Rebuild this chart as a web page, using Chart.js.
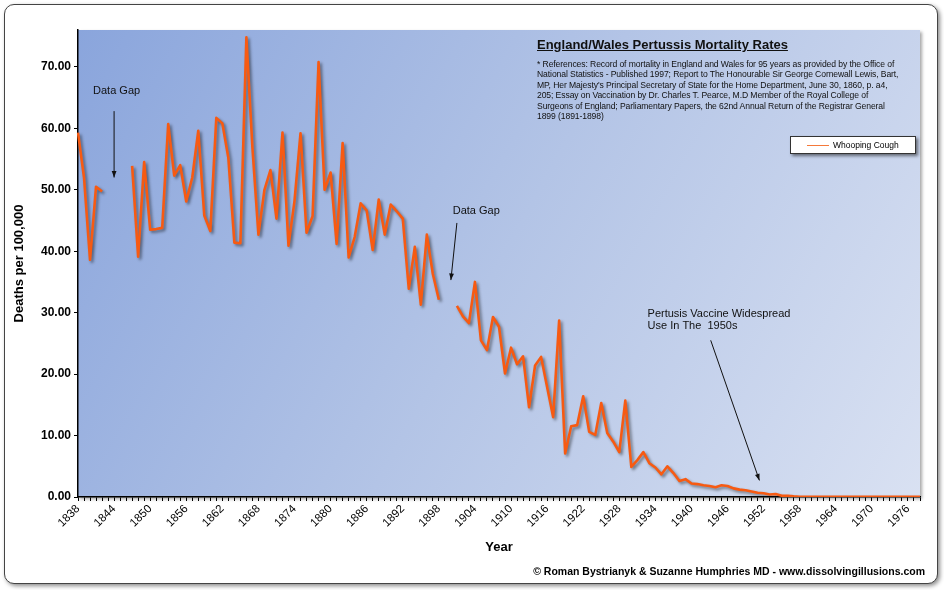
<!DOCTYPE html>
<html>
<head>
<meta charset="utf-8">
<script src="https://cdn.jsdelivr.net/npm/chart.js@4"></script>
<style>
  body { margin: 0; background: #fff; font-family: Arial, "Liberation Sans", sans-serif; }
  #wrap { position: relative; width: 944px; height: 590px; }
  #frame { position: absolute; left: 4px; top: 4px; width: 932px; height: 578px; border: 1px solid #444;
           border-radius: 10px; box-shadow: 2px 2px 4px rgba(0,0,0,0.45); background: #fff; }
  canvas { position: absolute; left: 0; top: 0; }
  .txt { position: absolute; color: #000; }
  #title { left: 537px; top: 37px; font-weight: bold; font-size: 13px; text-decoration: underline; color: #111; }
  #refs { left: 537px; top: 59px; width: 364px; font-size: 8.6px; line-height: 10.4px; color: #111; letter-spacing: -0.1px; }
  #legend { left: 790px; top: 136px; width: 124px; height: 16px; background: #fff; border: 1px solid #333;
            box-shadow: 2px 2px 3px rgba(0,0,0,0.5); font-size: 8.5px; line-height: 16px; }
  #legend span.sw { display: inline-block; width: 22px; height: 1px; background: #f5793a; vertical-align: middle; margin: 0 4px 0 16px; }
  #footer { right: 19px; top: 565px; font-weight: bold; font-size: 10.5px; }
</style>
</head>
<body>
<div id="wrap">
  <div id="frame"></div>
  <canvas id="chart" width="944" height="590"></canvas>
  <div class="txt" id="title">England/Wales Pertussis Mortality Rates</div>
  <div class="txt" id="refs">* References: Record of mortality in England and Wales for 95 years as provided by the Office of National Statistics - Published 1997; Report to The Honourable Sir George Cornewall Lewis, Bart, MP, Her Majesty's Principal Secretary of State for the Home Department, June 30, 1860, p. a4, 205; Essay on Vaccination by Dr. Charles T. Pearce, M.D Member of the Royal College of Surgeons of England; Parliamentary Papers, the 62nd Annual Return of the Registrar General 1899 (1891-1898)</div>
  <div class="txt" id="legend"><span class="sw"></span>Whooping Cough</div>
  <div class="txt" id="footer">© Roman Bystrianyk &amp; Suzanne Humphries MD - www.dissolvingillusions.com</div>
</div>
<script>
const firstYear = 1838;
const lastYear = 1978;
const years = [];
for (let y = firstYear; y <= lastYear; y++) years.push(String(y));

// deaths per 100,000, 1838-1898 (null = data gap)
const rates1838 = [59.3, 52.0, 38.6, 50.5, 49.7, null, null, null, null,
  53.9, 39.1, 54.5, 43.5, 43.6, 43.8, 60.7, 52.3, 54.0, 48.1, 52.0, 59.6,
  45.8, 43.3, 61.7, 60.8, 55.2, 41.4, 41.3, 74.8, 56.9, 42.7, 50.0, 53.2,
  45.3, 59.3, 40.9, 48.2, 59.2, 43.0, 45.7, 70.8, 50.0, 52.8, 41.2, 57.6,
  39.0, 42.3, 47.8, 46.6, 40.2, 48.4, 42.7, 47.6, 46.5, 45.3, 33.9, 40.7,
  31.3, 42.7, 36.3, 32.1];
// 1899-1900 missing
const rates1899 = [null, null];
// 1901-1978
const rates1901 = [31.1, 29.4, 28.3, 35.0, 25.5, 23.9, 29.3, 27.7, 20.1, 24.3,
  21.6, 22.9, 14.6, 21.4, 22.8, 17.9, 13.0, 28.7, 7.1, 11.5, 11.7, 16.4, 10.6,
  10.1, 15.3, 10.4, 9.0, 7.3, 15.7, 4.9, 6.0, 7.3, 5.5, 4.8, 3.7, 5.0, 3.9,
  2.6, 2.9, 2.2, 2.1, 1.9, 1.8, 1.6, 1.9, 1.8, 1.4, 1.2, 1.1, 0.9, 0.7, 0.6,
  0.4, 0.5, 0.2, 0.2, 0.1, 0.05, 0.04, 0.03, 0.03, 0.03, 0.02, 0.02, 0.02,
  0.02, 0.02, 0.02, 0.02, 0.02, 0.02, 0.02, 0.02, 0.02, 0.02, 0.02, 0.02, 0.02];
const rates = rates1838.concat(rates1899, rates1901);

const yTicks = [0, 10, 20, 30, 40, 50, 60, 70];
const yMax = 76;

const decor = {
  id: 'decor',
  beforeDraw(chart) {
    const { ctx, chartArea: a } = chart;
    const g = ctx.createLinearGradient(a.left, a.top, a.right, a.bottom);
    g.addColorStop(0, '#8aa5dc');
    g.addColorStop(0.5, '#b3c4e6');
    g.addColorStop(1, '#d9e1f2');
    ctx.save();
    ctx.shadowColor = 'rgba(0,0,0,0.35)';
    ctx.shadowBlur = 3;
    ctx.shadowOffsetX = 2;
    ctx.shadowOffsetY = 2;
    ctx.fillStyle = g;
    ctx.fillRect(a.left, a.top, a.right - a.left, a.bottom - a.top);
    ctx.restore();
  },
  beforeDatasetDraw(chart) {
    const ctx = chart.ctx;
    ctx.save();
    ctx.shadowColor = 'rgba(0,0,0,0.45)';
    ctx.shadowBlur = 3;
    ctx.shadowOffsetX = 2;
    ctx.shadowOffsetY = 2;
  },
  afterDatasetDraw(chart) { chart.ctx.restore(); },
  afterDraw(chart) {
    const { ctx, scales: { x, y } } = chart;
    const px = yr => x.getPixelForValue(yr - firstYear);
    function arrow(x1, y1, x2, y2) {
      ctx.beginPath(); ctx.moveTo(x1, y1); ctx.lineTo(x2, y2); ctx.stroke();
      const ang = Math.atan2(y2 - y1, x2 - x1);
      ctx.beginPath();
      ctx.moveTo(x2, y2);
      ctx.lineTo(x2 - 7 * Math.cos(ang - 0.35), y2 - 7 * Math.sin(ang - 0.35));
      ctx.lineTo(x2 - 7 * Math.cos(ang + 0.35), y2 - 7 * Math.sin(ang + 0.35));
      ctx.closePath(); ctx.fill();
    }
    ctx.save();
    ctx.strokeStyle = '#111'; ctx.fillStyle = '#111'; ctx.lineWidth = 1;
    ctx.font = '11px Arial, "Liberation Sans"';
    ctx.textBaseline = 'middle';
    ctx.fillText('Data Gap', px(1840.5), y.getPixelForValue(66));
    arrow(px(1844), y.getPixelForValue(62.8), px(1844), y.getPixelForValue(52));
    ctx.fillText('Data Gap', px(1900.3), y.getPixelForValue(46.5));
    arrow(px(1901), y.getPixelForValue(44.6), px(1900), y.getPixelForValue(35.3));
    ctx.fillText('Pertusis Vaccine Widespread', px(1932.7), y.getPixelForValue(29.8));
    ctx.fillText('Use In The  1950s', px(1932.7), y.getPixelForValue(27.8));
    arrow(px(1943.2), y.getPixelForValue(25.5), px(1951.3), y.getPixelForValue(2.7));
    ctx.restore();
  }
};

new Chart(document.getElementById('chart'), {
  type: 'line',
  data: {
    labels: years,
    datasets: [{
      label: 'Whooping Cough',
      data: rates,
      borderColor: '#f75a12',
      borderWidth: 2.6,
      borderJoinStyle: 'round',
      pointRadius: 0,
      tension: 0,
      spanGaps: false
    }]
  },
  options: {
    responsive: false,
    animation: false,
    layout: { padding: { left: 8, top: 30, right: 24, bottom: 31 } },
    plugins: { legend: { display: false }, tooltip: { enabled: false } },
    scales: {
      x: {
        offset: false,
        grid: { display: true, drawOnChartArea: false, tickLength: 4, color: '#000' },
        border: { color: '#000', width: 1.5 },
        ticks: {
          autoSkip: false, maxRotation: 45, minRotation: 45, color: '#000', padding: 1,
          font: { family: 'Arial', size: 11.5 },
          callback: (v, i) => (i % 6 === 0 ? years[i] : '')
        },
        title: { display: true, text: 'Year', color: '#000', font: { family: 'Arial', size: 13, weight: 'bold' }, padding: { top: 0 } },
        afterFit: s => { s.height = 62; }
      },
      y: {
        min: 0, max: yMax,
        afterBuildTicks: s => { s.ticks = yTicks.map(v => ({ value: v })); },
        grid: { display: true, drawOnChartArea: false, tickLength: 4, color: '#000' },
        border: { color: '#000', width: 1.5 },
        ticks: {
          color: '#000',
          font: { family: 'Arial', size: 12, weight: 'bold' },
          callback: v => v.toFixed(2)
        },
        title: { display: true, text: 'Deaths per 100,000', color: '#000', font: { family: 'Arial', size: 13, weight: 'bold' }, padding: { bottom: 2 } },
        afterFit: s => { s.width = 70; }
      }
    }
  },
  plugins: [decor]
});
</script>
</body>
</html>
